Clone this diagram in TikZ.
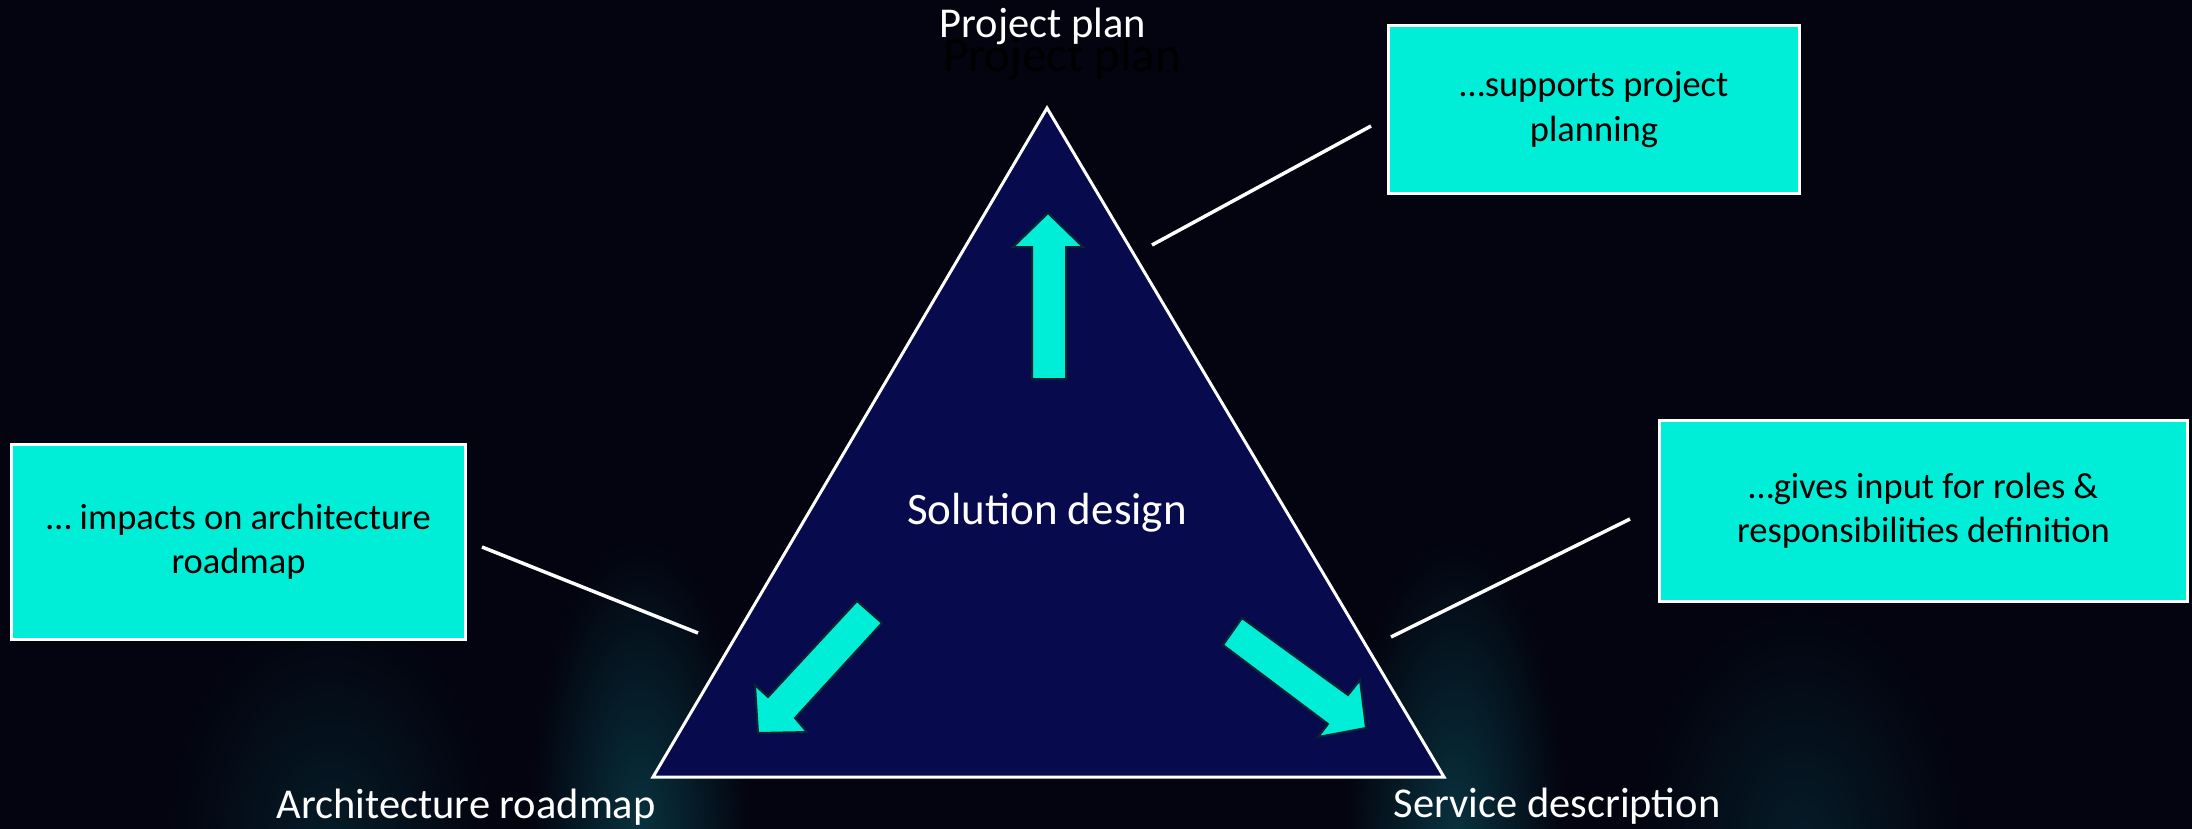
\documentclass[tikz,border=0pt]{standalone}
\usepackage{fontspec}
\setmainfont{Carlito}

\definecolor{bgnavy}{HTML}{03040F}
\definecolor{trinavy}{HTML}{070B4E}
\definecolor{aqua}{HTML}{00EED8}
\definecolor{glowteal}{HTML}{08333F}
\definecolor{arrowedge}{HTML}{0A2430}

\tikzset{
  notebox/.style={draw=white, line width=3pt, fill=aqua, text=black, align=center,
    inner sep=0pt, font=\fontsize{36.5}{44.5}\selectfont},
  cornerlabel/.style={anchor=base, text=white, font=\fontsize{42.5}{50}\selectfont},
  link/.style={draw=white, line width=3.5pt},
  fatarrow/.style={fill=aqua, draw=arrowedge, line width=2pt, line join=miter}
}

\begin{document}
\begin{tikzpicture}[x=1pt,y=-1pt]

\useasboundingbox (0,0) rectangle (2192,828);
\fill[bgnavy] (-4,-4) rectangle (2196,832);

% soft glow at the bottom
\begin{scope}
\clip (-4,-4) rectangle (2196,832);
\shade[inner color=glowteal, outer color=bgnavy] (640,840) ellipse (110 and 300);
\shade[inner color=glowteal, outer color=bgnavy] (1455,840) ellipse (110 and 300);
\shade[inner color=glowteal!50!bgnavy, outer color=bgnavy] (330,840) ellipse (160 and 230);
\shade[inner color=glowteal!50!bgnavy, outer color=bgnavy] (1800,840) ellipse (160 and 230);
\end{scope}

\coordinate (apex) at (1047,108);
\coordinate (baseL) at (653,777);
\coordinate (baseR) at (1444,777);
\draw[white, line width=3pt, fill=trinavy, line join=miter] (apex) -- (baseR) -- (baseL) -- cycle;

\node [cornerlabel, text=black, font=\fontsize{49}{56}\selectfont] (plan-shadow) at (1062,71) {Project plan};
\node [cornerlabel] (plan) at (1043,37) {Project plan};
\node [cornerlabel] (arch) at (466,818) {Architecture roadmap};
\node [cornerlabel] (serv) at (1557,817) {Service description};
\node [cornerlabel, font=\fontsize{45}{54}\selectfont] (design) at (1047,524) {Solution design};

% arrows out of the solution design
\draw[fatarrow] (1048,213) -- (1083,247) -- (1066,247) -- (1066,379) -- (1032,379) -- (1032,247) -- (1013,247) -- cycle;
\draw[fatarrow] (857,601) -- (882,623) -- (795,718) -- (807,732) -- (758,733) -- (755,685) -- (768,697) -- cycle;
\draw[fatarrow] (1242,618) -- (1223,645) -- (1328,724) -- (1318,737) -- (1366,728) -- (1360,680) -- (1348,695) -- cycle;

\node [notebox, minimum width=411pt, minimum height=168pt] (plan-box) at (1594,109.5) {…supports project\\planning};
\node [notebox, minimum width=454pt, minimum height=195pt] (arch-box) at (238.5,542) {… impacts on architecture\\roadmap};
\node [notebox, minimum width=528pt, minimum height=181pt] (serv-box) at (1923.5,511) {…gives input for roles \&\\responsibilities definition};

\coordinate (plan-a) at (1152,245);
\coordinate (plan-b) at (1371,126);
\coordinate (arch-a) at (698,633);
\coordinate (arch-b) at (482,547);
\coordinate (serv-a) at (1391,637);
\coordinate (serv-b) at (1630,519);

\draw[link] (plan-a) -- (plan-b);
\draw[link] (arch-a) -- (arch-b);
\draw[link] (serv-a) -- (serv-b);

\end{tikzpicture}
\end{document}
